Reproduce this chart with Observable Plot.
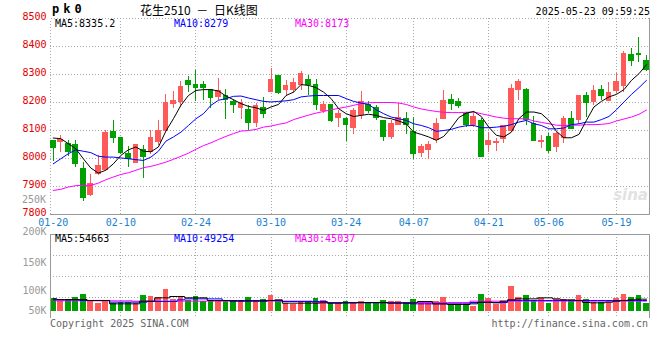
<!DOCTYPE html>
<html><head><meta charset="utf-8">
<script src="https://cdn.jsdelivr.net/npm/d3@7"></script>
<script src="https://cdn.jsdelivr.net/npm/@observablehq/plot@0.6"></script>
<style>
body{margin:0;background:#fff;}
#wrap{position:relative;width:660px;height:360px;overflow:hidden;font-family:"DejaVu Sans Mono",monospace;}
#wrap svg{position:absolute;left:0;top:0;}
.t{position:absolute;white-space:pre;font-size:10px;line-height:12px;font-family:"DejaVu Sans Mono",monospace;}
</style></head><body><div id="wrap"></div>
<script>
const dates = ["01-20","01-21","01-22","01-23","01-24","01-27","02-05","02-06","02-07","02-10","02-11","02-12","02-13","02-14","02-17","02-18","02-19","02-20","02-21","02-24","02-25","02-26","02-27","02-28","03-03","03-04","03-05","03-06","03-07","03-10","03-11","03-12","03-13","03-14","03-17","03-18","03-19","03-20","03-21","03-24","03-25","03-26","03-27","03-28","03-31","04-01","04-02","04-03","04-07","04-08","04-09","04-10","04-11","04-14","04-15","04-16","04-17","04-18","04-21","04-22","04-23","04-24","04-25","04-28","04-29","04-30","05-06","05-07","05-08","05-09","05-12","05-13","05-14","05-15","05-16","05-19","05-20","05-21","05-22","05-23"];
const tickDates = ["01-20","02-10","02-24","03-10","03-24","04-07","04-21","05-06","05-19"];
const priceTicks = [7800,7900,8000,8100,8200,8300,8400,8500];
const volTicks = [50000,100000,150000,200000];

const open = [8061,8060,8053,8047,7961,7868,7943,7960,8093,8075, 8015,7984,8029,8023,8059,8100,8196,8202,8276,8261, 8261,8243,8220,8222,8202,8180,8175,8127,8181,8237, 8293,8243,8246,8264,8279,8261,8169,8190,8143,8140, 8109,8154,8192,8181,8134,8077,8118,8142,8094,8019, 8031,8067,8140,8208,8202,8160,8118,8134,8047,8055, 8068,8098,8243,8243,8124,8059,8077,8041,8074,8142, 8136,8225,8202,8243,8204,8240,8259,8368,8374,8350];
const high = [8064,8083,8065,8065,7984,7943,8011,8100,8136,8076, 8043,8050,8047,8100,8134,8229,8240,8276,8294,8315, 8276,8246,8285,8246,8210,8210,8191,8196,8217,8323, 8294,8279,8285,8309,8297,8281,8204,8191,8172,8148, 8178,8240,8202,8190,8135,8136,8198,8166,8146,8050, 8059,8144,8243,8229,8214,8166,8166,8142,8094,8071, 8118,8264,8283,8249,8150,8083,8089,8094,8150,8168, 8225,8235,8261,8261,8273,8303,8383,8394,8431,8368];
const low = [7990,8023,8008,7967,7847,7866,7940,7958,8055,8015, 7969,7981,7930,8015,8047,8099,8180,8181,8234,8205, 8208,8180,8208,8140,8162,8140,8100,8109,8144,8235, 8229,8222,8232,8243,8225,8172,8160,8130,8112,8062, 8086,8139,8160,8136,8061,8068,8117,8086,7997,8005, 7997,8055,8139,8172,8180,8109,8109,8004,8023,8026, 8055,8097,8208,8118,8061,8035,8019,8023,8055,8103, 8122,8148,8190,8208,8202,8232,8234,8327,8344,8312];
const close = [8037,8067,8023,7981,7859,7910,7972,8091,8073,8019, 7997,8047,8004,8073,8100,8198,8205,8255,8261,8252, 8252,8216,8241,8208,8191,8198,8127,8189,8160,8279, 8234,8258,8269,8303,8261,8190,8190,8134,8158,8119, 8168,8202,8169,8146,8077,8122,8146,8118,8015,8041, 8050,8122,8204,8196,8187,8118,8150,8005,8062,8060, 8117,8247,8273,8139,8062,8062,8026,8089,8140,8104, 8224,8198,8240,8225,8234,8273,8372,8350,8371,8317];

const ma5 = [8073,8071,8053,8035,7999,7966,7948,7958,7981,8011, 8031,8041,8026,8024,8041,8098,8142,8190,8225,8243, 8246,8246,8241,8223,8210,8196,8186,8181,8172,8184, 8193,8225,8237,8264,8261,8253,8237,8214,8178,8160, 8150,8154,8158,8154,8146,8142,8134,8124,8094,8086, 8077,8065,8079,8110,8146,8162,8168,8150,8112,8083, 8077,8094,8142,8166,8166,8160,8136,8097,8074,8074, 8086,8136,8184,8204,8220,8229,8246,8279,8303,8335];
const ma10 = [7981,7999,8017,8031,8026,8021,8008,8005,8005,8002, 7999,7996,7993,8005,8026,8062,8077,8094,8118,8142, 8160,8190,8208,8214,8222,8223,8216,8210,8204,8202, 8204,8206,8210,8220,8223,8225,8225,8225,8225,8214, 8204,8198,8193,8174,8160,8148,8142,8136,8124,8118, 8110,8097,8100,8104,8112,8117,8118,8110,8110,8112, 8115,8121,8130,8136,8124,8118,8106,8106,8109,8121, 8124,8130,8130,8139,8150,8174,8202,8229,8253,8279];
const ma30 = [7886,7890,7898,7903,7904,7904,7912,7924,7934,7943, 7949,7958,7967,7972,7979,7987,7997,8008,8019,8033, 8046,8056,8068,8079,8089,8098,8100,8104,8112,8116, 8122,8127,8139,8147,8155,8162,8168,8174,8179,8184, 8190,8196,8199,8200,8200,8200,8198,8193,8184,8177, 8172,8168,8165,8164,8164,8165,8166,8160,8154,8148, 8144,8142,8142,8142,8134,8129,8124,8119,8118,8119, 8119,8121,8121,8122,8125,8134,8141,8148,8158,8173];

const vol = [46800,41300,44400,49200,57100,42900,36500,41300,36500,38900, 38900,36500,54800,52400,49200,69000,44400,49200,42900,52400, 41300,42900,42900,42900,41300,41300,49200,41300,44400,54800, 42900,36500,33300,38900,41300,46800,42900,38900,36500,41300, 38900,41300,34900,34900,42900,41300,41300,34900,45200,34900, 34900,41300,49200,33300,33300,31000,28600,57100,47600,33300, 39700,76200,49200,54800,42900,46800,36500,44400,44400,41300, 54800,44400,38900,38900,38900,48400,57100,49200,54800,36500];
const vma5 = [46800,45000,45000,45000,45000,42900,42900,42900,34900,34900, 34900,34900,41300,41300,49200,49200,52400,52400,49200,49200, 49200,42900,42900,42900,41300,41300,41300,41300,41300,42900, 44400,36500,36500,36500,36500,36500,37300,36500,36500,37300, 37300,38100,38100,38100,38100,36500,36500,36500,37300,40500, 40500,34900,34900,33300,33300,33300,34900,38900,38900,37300, 41300,44400,46800,46800,46800,49200,49200,46800,44400,44400, 42900,38100,37300,37300,38900,41300,42900,44400,46000,46000];
const vma10 = [44400,44400,44400,44400,42900,42900,42900,42900,38900,38900, 38900,38900,38900,40500,40500,40500,40500,44400,46800,46800, 46800,46800,46800,42900,42900,42900,42900,42900,42900,42900, 42900,40500,40500,40500,40500,40500,40500,37300,37300,37300, 37300,37300,37300,37300,37300,37300,37300,37300,34900,34900, 34900,34900,34900,34900,34900,34900,38100,38100,38100,38100, 38100,42900,42900,42900,42900,42900,42900,42900,42900,42900, 42900,42900,42900,42900,42900,42900,42900,42900,42900,42900];
const vma30 = [42100,42100,42100,42100,42100,42100,42100,42100,42100,42100, 42100,41300,41300,41300,41300,41300,41300,41300,41300,41300, 41300,41300,41300,41300,41300,41300,41300,41300,41300,41300, 41300,41300,41300,41300,41300,38100,38100,38100,38100,38100, 38100,38100,38100,38100,38100,38100,38100,38100,38100,38100, 38100,38100,38100,38100,38100,38100,41300,41300,41300,41300, 41300,41300,41300,41300,41300,41300,41300,41300,41300,41300, 41300,41300,41300,41300,41300,41300,41300,41300,41300,41300];

const legendMain = [["MA5:8335.2","#000"],["MA10:8279","#0000ff"],["MA30:8173","#ff00ff"]];
const legendVol = [["MA5:54663","#000"],["MA10:49254","#0000ff"],["MA30:45037","#ff00ff"]];

const idx = d3.range(dates.length);
const RED = "#ff5a5a", GREEN = "#00a000";
const col = i => close[i] >= open[i] ? RED : GREEN;
const xMin = -0.37, xMax = 79.4, half = 0.38;
const tickIdx = tickDates.map(d => dates.indexOf(d));
const grid = {stroke: "#a8a8a8", strokeDasharray: "1,2", strokeOpacity: 1, shapeRendering: "crispEdges"};
const solid = {stroke: "#999", strokeOpacity: 1, shapeRendering: "crispEdges"};
const baseStyle = {background: "transparent", fontFamily: "DejaVu Sans Mono, monospace", fontSize: "10px", overflow: "visible"};

const main = Plot.plot({
  width: 660, height: 360, marginLeft: 50, marginRight: 11, marginTop: 18, marginBottom: 146,
  style: baseStyle,
  x: {type: "linear", domain: [xMin, xMax]},
  y: {domain: [priceTicks[0], priceTicks[priceTicks.length - 1]]},
  color: {type: "identity"},
  marks: [
    Plot.ruleY(priceTicks.slice(1, -1), grid),
    Plot.ruleX(tickIdx.slice(1), grid),
    Plot.frame(grid),
    Plot.ruleY([priceTicks[0]], solid),
    Plot.ruleX([xMax], solid),
    Plot.ruleX(idx, {x: i => i, y1: i => low[i], y2: i => high[i], stroke: col, shapeRendering: "crispEdges"}),
    Plot.rect(idx, {x1: i => i - half, x2: i => i + half, y1: i => open[i], y2: i => close[i], fill: col, insetTop: -0.5, insetBottom: -0.5, shapeRendering: "crispEdges"}),
    Plot.line(idx, {x: i => i, y: i => ma30[i], stroke: "#ff00ff", strokeWidth: 1}),
    Plot.line(idx, {x: i => i, y: i => ma10[i], stroke: "#0000ff", strokeWidth: 1}),
    Plot.line(idx, {x: i => i, y: i => ma5[i], stroke: "#000000", strokeWidth: 1}),
    Plot.axisY(priceTicks, {tickSize: 0, tickPadding: 4, color: "#e00000", dy: -1.5, tickFormat: d => String(d), label: null}),
    Plot.axisX(tickIdx, {tickSize: 0, tickPadding: 4, color: "#1a7fcf", tickFormat: i => dates[i], label: null})
  ]
});

const volDy = [13, 14, 7, -3];
const volBase = 16700;
const volChart = Plot.plot({
  width: 660, height: 360, marginLeft: 50, marginRight: 11, marginTop: 234, marginBottom: 42,
  style: baseStyle,
  x: {type: "linear", domain: [xMin, xMax], axis: null},
  y: {domain: [0, volTicks[volTicks.length - 1]]},
  color: {type: "identity"},
  marks: [
    Plot.ruleY(volTicks.slice(0, -1), grid),
    Plot.ruleX(tickIdx.slice(1), grid),
    Plot.rect(idx, {x1: i => i - half, x2: i => i + half, y1: volBase, y2: i => vol[i], fill: col, shapeRendering: "crispEdges"}),
    Plot.line(idx, {x: i => i, y: i => vma30[i], stroke: "#ff00ff", strokeWidth: 1, curve: "step"}),
    Plot.line(idx, {x: i => i, y: i => vma10[i], stroke: "#0000ff", strokeWidth: 1, curve: "step"}),
    Plot.line(idx, {x: i => i, y: i => vma5[i], stroke: "#000000", strokeWidth: 1, curve: "step"}),
    Plot.ruleY([volTicks[volTicks.length - 1]], solid),
    Plot.ruleX([xMin], solid),
    Plot.ruleX([xMax], solid),
    ...volTicks.map((t, k) => Plot.axisY([t], {tickSize: 0, tickPadding: 4, color: "#999", dy: volDy[k], tickFormat: v => (v / 1000) + "K", label: null}))
  ]
});

const wrap = document.getElementById("wrap");
wrap.appendChild(main);
wrap.appendChild(volChart);

function addText(txt, css) {
  const s = document.createElement("span");
  s.className = "t";
  s.textContent = txt;
  Object.assign(s.style, css);
  wrap.appendChild(s);
  return s;
}
addText("pk0", {left: "52px", top: "3px", fontSize: "12px", fontWeight: "bold", letterSpacing: "4px", color: "#000"});
addText("花生2510 － 日K线图", {left: "140px", top: "4px", fontSize: "12px", wordSpacing: "3px", fontFamily: "'Noto Sans CJK SC', sans-serif", color: "#000"});
addText("2025-05-23 09:59:25", {right: "10px", top: "6px", color: "#000"});
const lx = [55, 174, 295];
legendMain.forEach(([t, c], k) => addText(t, {left: lx[k] + "px", top: "18px", color: c}));
legendVol.forEach(([t, c], k) => addText(t, {left: lx[k] + "px", top: "233px", color: c}));
addText("250K", {right: "614px", top: "194px", color: "#999"});
addText("Copyright 2025 SINA.COM", {left: "50px", top: "318px", color: "#666"});
addText("http://finance.sina.com.cn", {right: "12px", top: "318px", color: "#666"});
addText("sina", {right: "12px", top: "186px", fontSize: "15px", lineHeight: "18px", fontWeight: "bold", fontStyle: "italic", fontFamily: "'DejaVu Sans', sans-serif", color: "#e2e2e2"});
</script></body></html>
